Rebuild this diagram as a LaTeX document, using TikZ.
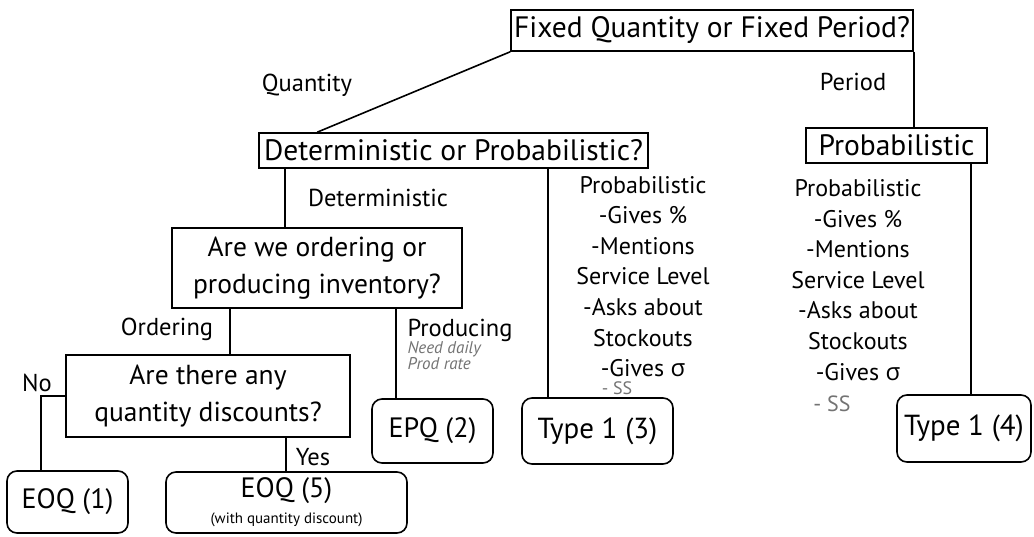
\documentclass[tikz,border=0pt]{standalone}
\usepackage{fontspec}
\setmainfont{PT Sans}
\newfontfamily\greekfont{Open Sans}
\usepackage{xcolor}
\definecolor{pencil}{rgb}{0.45,0.45,0.45}
\newcommand{\sig}{{\greekfont σ}}

\tikzset{
  box/.style={draw, line width=1.6pt, inner sep=0pt, font=\fontsize{29.5}{34}\selectfont},
  endbox/.style={box, rounded corners=10pt, font=\fontsize{28}{32}\selectfont},
  lbl/.style={font=\fontsize{24.5}{28}\selectfont},
  note/.style={align=center, font=\fontsize{24}{30.6}\selectfont},
  hand/.style={pencil, font=\fontsize{17}{16}\selectfont\itshape},
  link/.style={line width=1.6pt},
}

\begin{document}
\begin{tikzpicture}[x=1pt,y=-1pt]

    \useasboundingbox (0,0) rectangle (1034,536);

    % question boxes
    \node[box, minimum width=402pt, minimum height=41pt] (top) at (712,30.5) {Fixed Quantity or Fixed Period?};
    \node[box, minimum width=389pt, minimum height=35pt] (det) at (453.5,150.5) {Deterministic or Probabilistic?};
    \node[box, minimum width=181pt, minimum height=35pt] (prob) at (896.5,145.5) {Probabilistic};
    \node[box, minimum width=290pt, minimum height=80pt, align=center, font=\fontsize{27.5}{37}\selectfont] (ord) at (317,268) {Are we ordering or\\producing inventory?};
    \node[box, minimum width=284pt, minimum height=82pt, align=center, font=\fontsize{27.5}{37}\selectfont] (disc) at (208,396) {Are there any\\quantity discounts?};

    % end boxes
    \node[endbox, minimum width=121pt, minimum height=62pt] (eoq1) at (67.5,502) {EOQ (1)};
    \node[endbox, minimum width=241pt, minimum height=61pt, align=center] (eoq5) at (286.5,502.5) {EOQ (5)\\[-6pt]{\fontsize{15}{16}\selectfont (with quantity discount)}};
    \node[endbox, minimum width=121pt, minimum height=64pt] (epq) at (432.5,431) {EPQ (2)};
    \node[endbox, minimum width=151pt, minimum height=66pt, font=\fontsize{29}{32}\selectfont] (type3) at (597.5,431) {Type 1 (3)};
    \node[endbox, minimum width=134pt, minimum height=67pt, font=\fontsize{29}{32}\selectfont] (type4) at (964,428.5) {Type 1 (4)};

    \node[lbl] (lquant) at (307,85) {Quantity};
    \node[lbl] (lper) at (853,82) {Period};
    \node[lbl] (ldet) at (378,198) {Deterministic};
    \node[lbl] (lord) at (167,329) {Ordering};
    \node[lbl, anchor=west] (lprod) at (404,330) {Producing};
    \node[lbl] (lno) at (37,383) {No};
    \node[lbl] (lyes) at (313,457) {Yes};

    \node[note] (info3) at (643,276.5) {Probabilistic\\-Gives \%\\-Mentions\\Service Level\\-Asks about\\Stockouts\\-Gives \sig};
    \node[note] (info4) at (858,280) {Probabilistic\\-Gives \%\\-Mentions\\Service Level\\-Asks about\\Stockouts\\-Gives \sig};

    % pencil notes
    \node[hand, anchor=west, align=left] (need) at (404,356) {Need daily\\Prod rate};
    \node[hand, font=\fontsize{18}{18}\selectfont] (ss3) at (617,388) {- SS};
    \node[hand, font=\fontsize{22}{22}\selectfont] (ss4) at (832,404) {- SS};

    \draw[link] (top.south west) -- ([xshift=59pt]det.north west);
    \draw[link] (top.south east) -- (top.south east |- prob.north);
    \draw[link] ([xshift=27pt]det.south west) -- ([xshift=27pt]det.south west |- ord.north);
    \draw[link] ([xshift=290pt]det.south west) -- ([xshift=290pt]det.south west |- type3.north);
    \draw[link] ([xshift=-17pt]prob.south east) -- ([xshift=-17pt]prob.south east |- type4.north);
    \draw[link] ([xshift=59pt]ord.south west) -- ([xshift=59pt]ord.south west |- disc.north);
    \draw[link] ([xshift=225pt]ord.south west) -- ([xshift=225pt]ord.south west |- epq.north);
    \draw[link] (disc.west) -| ([xshift=35pt]eoq1.north west);
    \draw[link] ([xshift=221pt]disc.south west) -- ([xshift=221pt]disc.south west |- eoq5.north);

\end{tikzpicture}
\end{document}
